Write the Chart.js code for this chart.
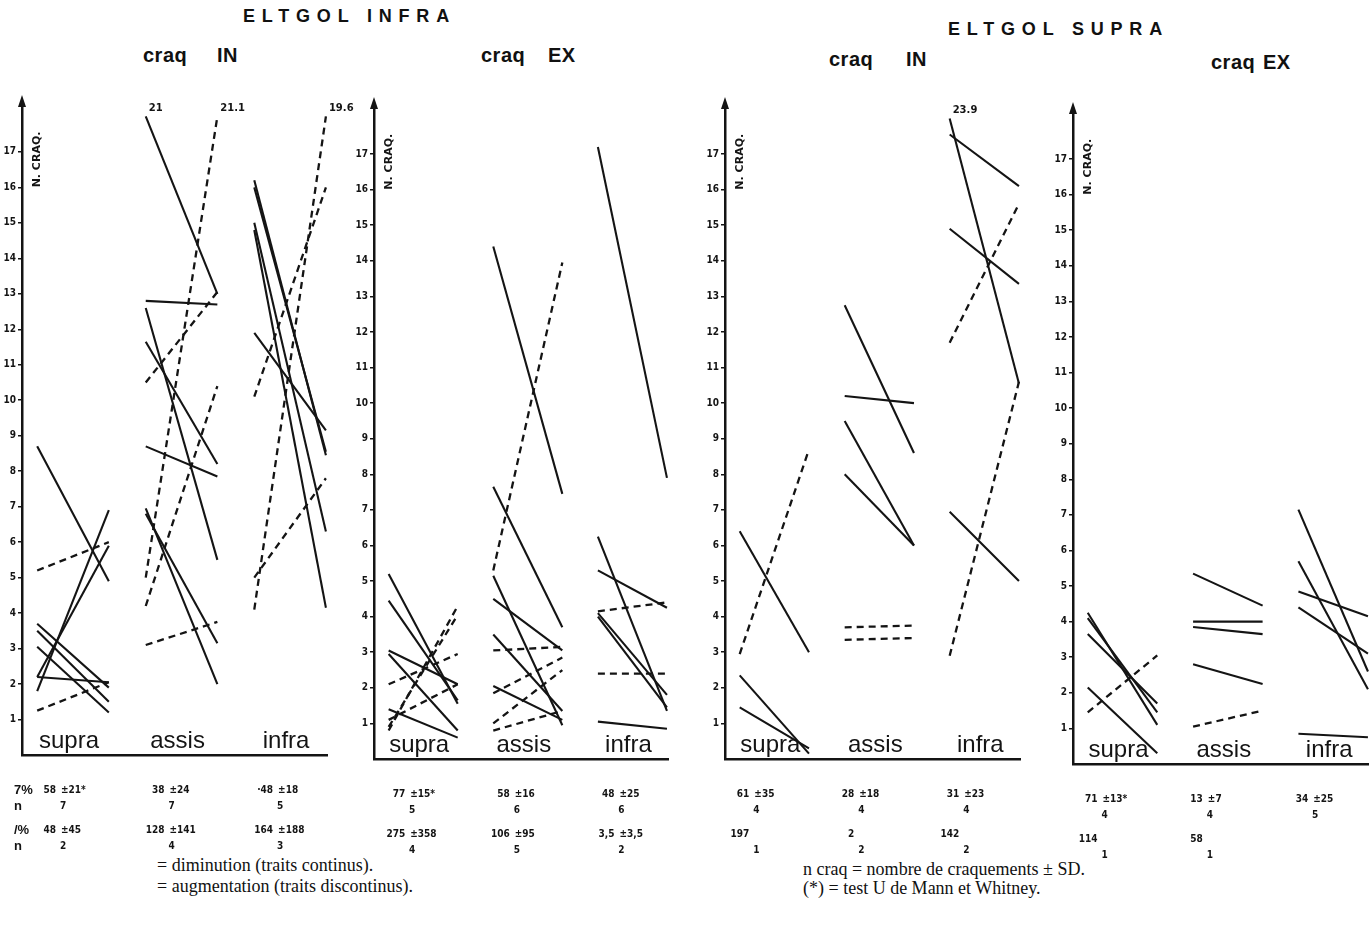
<!DOCTYPE html>
<html>
<head>
<meta charset="utf-8">
<script src="https://cdn.jsdelivr.net/npm/chart.js@4.4.0/dist/chart.umd.min.js"></script>
<style>
  html, body { margin: 0; padding: 0; background: #fff; }
  body { width: 1369px; height: 936px; position: relative; overflow: hidden; }
  canvas { position: absolute; }
  .t { position: absolute; white-space: pre; color: #111; }
  .title { font: bold 18px "Liberation Sans", Arial, sans-serif; letter-spacing: 6.8px; }
  .sub { font: bold 20px "Liberation Sans", Arial, sans-serif; letter-spacing: 0.5px; }
  .note { font: 18px "Liberation Serif", "Times New Roman", serif; }
</style>
</head>
<body>
<div class="t title" style="left:243px; top:6px">ELTGOL INFRA</div>
<div class="t sub" style="left:143px; top:44px">craq</div>
<div class="t sub" style="left:217px; top:44px">IN</div>
<div class="t sub" style="left:481px; top:44px">craq</div>
<div class="t sub" style="left:548px; top:44px">EX</div>
<div class="t title" style="left:948px; top:19px">ELTGOL SUPRA</div>
<div class="t sub" style="left:829px; top:48px">craq</div>
<div class="t sub" style="left:906px; top:48px">IN</div>
<div class="t sub" style="left:1211px; top:51px">craq</div>
<div class="t sub" style="left:1263px; top:51px">EX</div>

<div class="t note" style="left:157px; top:855px">= diminution (traits continus).</div>
<div class="t note" style="left:157px; top:876px">= augmentation (traits discontinus).</div>
<div class="t note" style="left:803px; top:859px">n craq = nombre de craquements ± SD.</div>
<div class="t note" style="left:803px; top:878px">(*) = test U de Mann et Whitney.</div>

<script>
// categories on the x axis of every panel
const categories = ['supra', 'assis', 'infra'];
const yTicks = [1, 2, 3, 4, 5, 6, 7, 8, 9, 10, 11, 12, 13, 14, 15, 16, 17];

// segments: [category index, value before, value after]
// solid = diminution, dashed = augmentation
const infraInSolid = [
    [0, 8.7, 4.9], [0, 1.8, 6.9], [0, 2.2, 5.9], [0, 2.2, 2.05], [0, 3.7, 1.9], [0, 3.5, 1.5], [0, 3.05, 1.2],
    [1, 21, 13.0], [1, 12.8, 12.7], [1, 12.6, 5.5], [1, 11.65, 8.2], [1, 8.7, 7.85], [1, 6.95, 2.0], [1, 6.8, 3.15],
    [2, 16.2, 8.45], [2, 16.0, 8.55], [2, 15.0, 6.3], [2, 14.8, 4.15], [2, 11.9, 9.15]
];
const infraInDashed = [
    [0, 5.2, 6.0], [0, 1.25, 2.05],
    [1, 5.0, 21.1], [1, 4.2, 10.4], [1, 10.5, 13.05], [1, 3.1, 3.75],
    [2, 4.1, 19.6], [2, 10.1, 16.0], [2, 5.0, 7.8]
];
const infraExSolid = [
    [0, 5.2, 1.55], [0, 4.45, 1.65], [0, 3.05, 2.1], [0, 2.95, 0.8], [0, 1.4, 0.6],
    [1, 14.4, 7.45], [1, 7.65, 3.7], [1, 5.15, 0.95], [1, 4.5, 3.05], [1, 3.5, 1.35], [1, 2.05, 1.1],
    [2, 17.2, 7.9], [2, 6.25, 1.35], [2, 5.3, 4.25], [2, 4.1, 1.8], [2, 4.0, 1.45], [2, 1.05, 0.85]
];
const infraExDashed = [
    [0, 0.8, 4.3], [0, 0.9, 4.05], [0, 2.1, 2.95], [0, 1.1, 2.1],
    [1, 5.3, 13.95], [1, 3.05, 3.15], [1, 1.85, 2.85], [1, 0.8, 1.35], [1, 1.0, 2.5],
    [2, 4.15, 4.4], [2, 2.4, 2.4]
];
const supraInSolid = [
    [0, 6.4, 3.0], [0, 2.35, 0.15], [0, 1.45, 0.3],
    [1, 12.75, 8.6], [1, 10.2, 10.0], [1, 9.5, 6.0], [1, 8.0, 6.0],
    [2, 23.9, 10.55], [2, 17.55, 16.1], [2, 14.9, 13.35], [2, 6.95, 5.0]
];
const supraInDashed = [
    [0, 2.95, 8.7],
    [1, 3.7, 3.75], [1, 3.35, 3.4],
    [2, 11.7, 15.6], [2, 2.9, 10.6]
];
const supraExSolid = [
    [0, 4.25, 1.1], [0, 4.1, 1.45], [0, 3.65, 1.7], [0, 2.15, 0.3],
    [1, 5.35, 4.45], [1, 4.0, 4.0], [1, 3.85, 3.65], [1, 2.8, 2.25],
    [2, 7.15, 2.6], [2, 5.7, 2.1], [2, 4.85, 4.15], [2, 4.4, 3.1], [2, 0.85, 0.75]
];
const supraExDashed = [
    [0, 1.45, 3.05],
    [1, 1.05, 1.5]
];

// stats under each category: [mean, SD, n]  (first row diminution, second augmentation)
const infraInDim = [['58', '21*', '7'], ['38', '24', '7'], ['·48', '18', '5']];
const infraInAug = [['48', '45', '2'], ['128', '141', '4'], ['164', '188', '3']];
const infraExDim = [['77', '15*', '5'], ['58', '16', '6'], ['48', '25', '6']];
const infraExAug = [['275', '358', '4'], ['106', '95', '5'], ['3,5', '3,5', '2']];
const supraInDim = [['61', '35', '4'], ['28', '18', '4'], ['31', '23', '4']];
const supraInAug = [['197', '', '1'], ['2', '', '2'], ['142', '', '2']];
const supraExDim = [['71', '13*', '4'], ['13', '7', '4'], ['34', '25', '5']];
const supraExAug = [['114', '', '1'], ['58', '', '1']];

const INK = '#141414';
const TOP = 18.0;      // values above this are drawn broken at the top
const YMAX = 18.35;
const XMIN = -0.47, XMAX = 2.34;
const HALF = 0.33;
const YW = 30, PT = 14, PB = 100, PR = 30;

const panels = [
    { axisX: 22, bottom: 755, step: 108.5, unit: 35.5, shift: -4, solid: infraInSolid, dashed: infraInDashed, dim: infraInDim, aug: infraInAug, rowLabels: true },
    { axisX: 374, bottom: 759, step: 104.5, unit: 35.6, shift: -5, solid: infraExSolid, dashed: infraExDashed, dim: infraExDim, aug: infraExAug },
    { axisX: 725, bottom: 759, step: 105, unit: 35.6, shift: -12, solid: supraInSolid, dashed: supraInDashed, dim: supraInDim, aug: supraInAug },
    { axisX: 1073, bottom: 764, step: 105.5, unit: 35.6, shift: -12, solid: supraExSolid, dashed: supraExDashed, dim: supraExDim, aug: supraExAug }
];

/**
 * Turn segment lists into scatter datasets
 */
function segmentDatasets(solid, dashed) {
    const make = (seg, dash) => ({
        data: [
            { x: seg[0] - HALF, y: Math.min(seg[1], TOP) },
            { x: seg[0] + HALF, y: Math.min(seg[2], TOP) }
        ],
        showLine: true,
        borderColor: INK,
        borderWidth: dash ? 2.3 : 2.1,
        borderDash: dash ? [7, 5] : [],
        pointRadius: 0,
        clip: false
    });
    return solid.map(s => make(s, false)).concat(dashed.map(s => make(s, true)));
}

/**
 * Axis arrow, vertical title, category names, broken values and stats
 */
const decoPlugin = {
    id: 'deco',
    afterDraw(chart) {
        const { ctx, chartArea: a, scales: { x, y } } = chart;
        const p = chart.options.plugins.deco;
        ctx.save();
        ctx.fillStyle = INK;

        // arrow head on the y axis
        ctx.beginPath();
        ctx.moveTo(a.left, a.top - 9);
        ctx.lineTo(a.left - 4, a.top + 3);
        ctx.lineTo(a.left + 4, a.top + 3);
        ctx.closePath();
        ctx.fill();

        // vertical axis title
        ctx.save();
        ctx.translate(a.left + 15, y.getPixelForValue(16.0));
        ctx.rotate(-Math.PI / 2);
        ctx.font = 'bold 11px "DejaVu Sans", sans-serif';
        ctx.textAlign = 'left';
        ctx.textBaseline = 'middle';
        ctx.fillText('N. CRAQ.', 0, 0);
        ctx.restore();

        // category names inside the plot
        ctx.font = '24px "Liberation Sans", Arial, sans-serif';
        ctx.textAlign = 'center';
        ctx.textBaseline = 'alphabetic';
        categories.forEach((c, i) => ctx.fillText(c, x.getPixelForValue(i) - 4, a.bottom - 7));

        // true values of the segments cut at the top
        ctx.font = 'bold 10px "DejaVu Sans", sans-serif';
        ctx.textAlign = 'left';
        p.segments.forEach(seg => {
            [1, 2].forEach(k => {
                if (seg[k] > TOP) {
                    const px = x.getPixelForValue(seg[0] + (k === 1 ? -HALF : HALF));
                    const py = y.getPixelForValue(TOP);
                    ctx.fillText(String(seg[k]), px + 3, py - 5);
                }
            });
        });

        // stats rows
        const rows = [[p.dim, 35, 51], [p.aug, 75, 91]];
        rows.forEach(([list, r1, r2]) => {
            list.forEach((s, i) => {
                const cx = x.getPixelForValue(i) + p.shift;
                ctx.font = 'bold 10px "DejaVu Sans Condensed", "DejaVu Sans", sans-serif';
                ctx.textBaseline = 'middle';
                ctx.textAlign = 'right';
                ctx.fillText(s[0], cx - 13, a.bottom + r1);
                if (s[1]) {
                    ctx.textAlign = 'left';
                    ctx.fillText('±' + s[1], cx - 8, a.bottom + r1);
                }
                ctx.textAlign = 'center';
                ctx.fillText(s[2], cx - 6, a.bottom + r2);
            });
            if (p.rowLabels) {
                ctx.font = 'bold 13px "Liberation Sans", sans-serif';
                ctx.textAlign = 'left';
                ctx.fillText(list === p.dim ? '7%' : '/%', 14 - chart.canvas.offsetLeft, a.bottom + r1);
                ctx.fillText('n', 14 - chart.canvas.offsetLeft, a.bottom + r2);
            }
        });
        ctx.restore();
    }
};

panels.forEach(panel => {
    const plotH = YMAX * panel.unit;
    const plotW = (XMAX - XMIN) * panel.step;
    const canvas = document.createElement('canvas');
    canvas.width = Math.round(YW + plotW + PR);
    canvas.height = Math.round(PT + plotH + PB);
    canvas.style.left = (panel.axisX - YW) + 'px';
    canvas.style.top = Math.round(panel.bottom - plotH - PT) + 'px';
    document.body.appendChild(canvas);

    new Chart(canvas, {
        type: 'scatter',
        data: { datasets: segmentDatasets(panel.solid, panel.dashed) },
        options: {
            responsive: false,
            animation: false,
            devicePixelRatio: 1,
            events: [],
            layout: { padding: { top: PT, bottom: PB, left: 0, right: PR } },
            plugins: {
                legend: { display: false },
                tooltip: { enabled: false },
                deco: {
                    segments: panel.solid.concat(panel.dashed),
                    dim: panel.dim,
                    aug: panel.aug,
                    shift: panel.shift,
                    rowLabels: !!panel.rowLabels
                }
            },
            scales: {
                x: {
                    type: 'linear',
                    min: XMIN,
                    max: XMAX,
                    afterFit: s => { s.height = 0; },
                    ticks: { display: false },
                    grid: { display: false, drawTicks: false },
                    border: { display: true, color: INK, width: 2.5 }
                },
                y: {
                    min: 0,
                    max: YMAX,
                    afterFit: s => { s.width = YW; },
                    afterBuildTicks: s => { s.ticks = yTicks.map(v => ({ value: v })); },
                    ticks: {
                        color: INK,
                        padding: 2,
                        font: { family: '"DejaVu Sans Condensed", "DejaVu Sans", sans-serif', size: 10, weight: 'bold' }
                    },
                    grid: { drawOnChartArea: false, drawTicks: true, tickLength: 4, color: INK, lineWidth: 1.5 },
                    border: { display: true, color: INK, width: 2.5 }
                }
            }
        },
        plugins: [decoPlugin]
    });
});
</script>
</body>
</html>
